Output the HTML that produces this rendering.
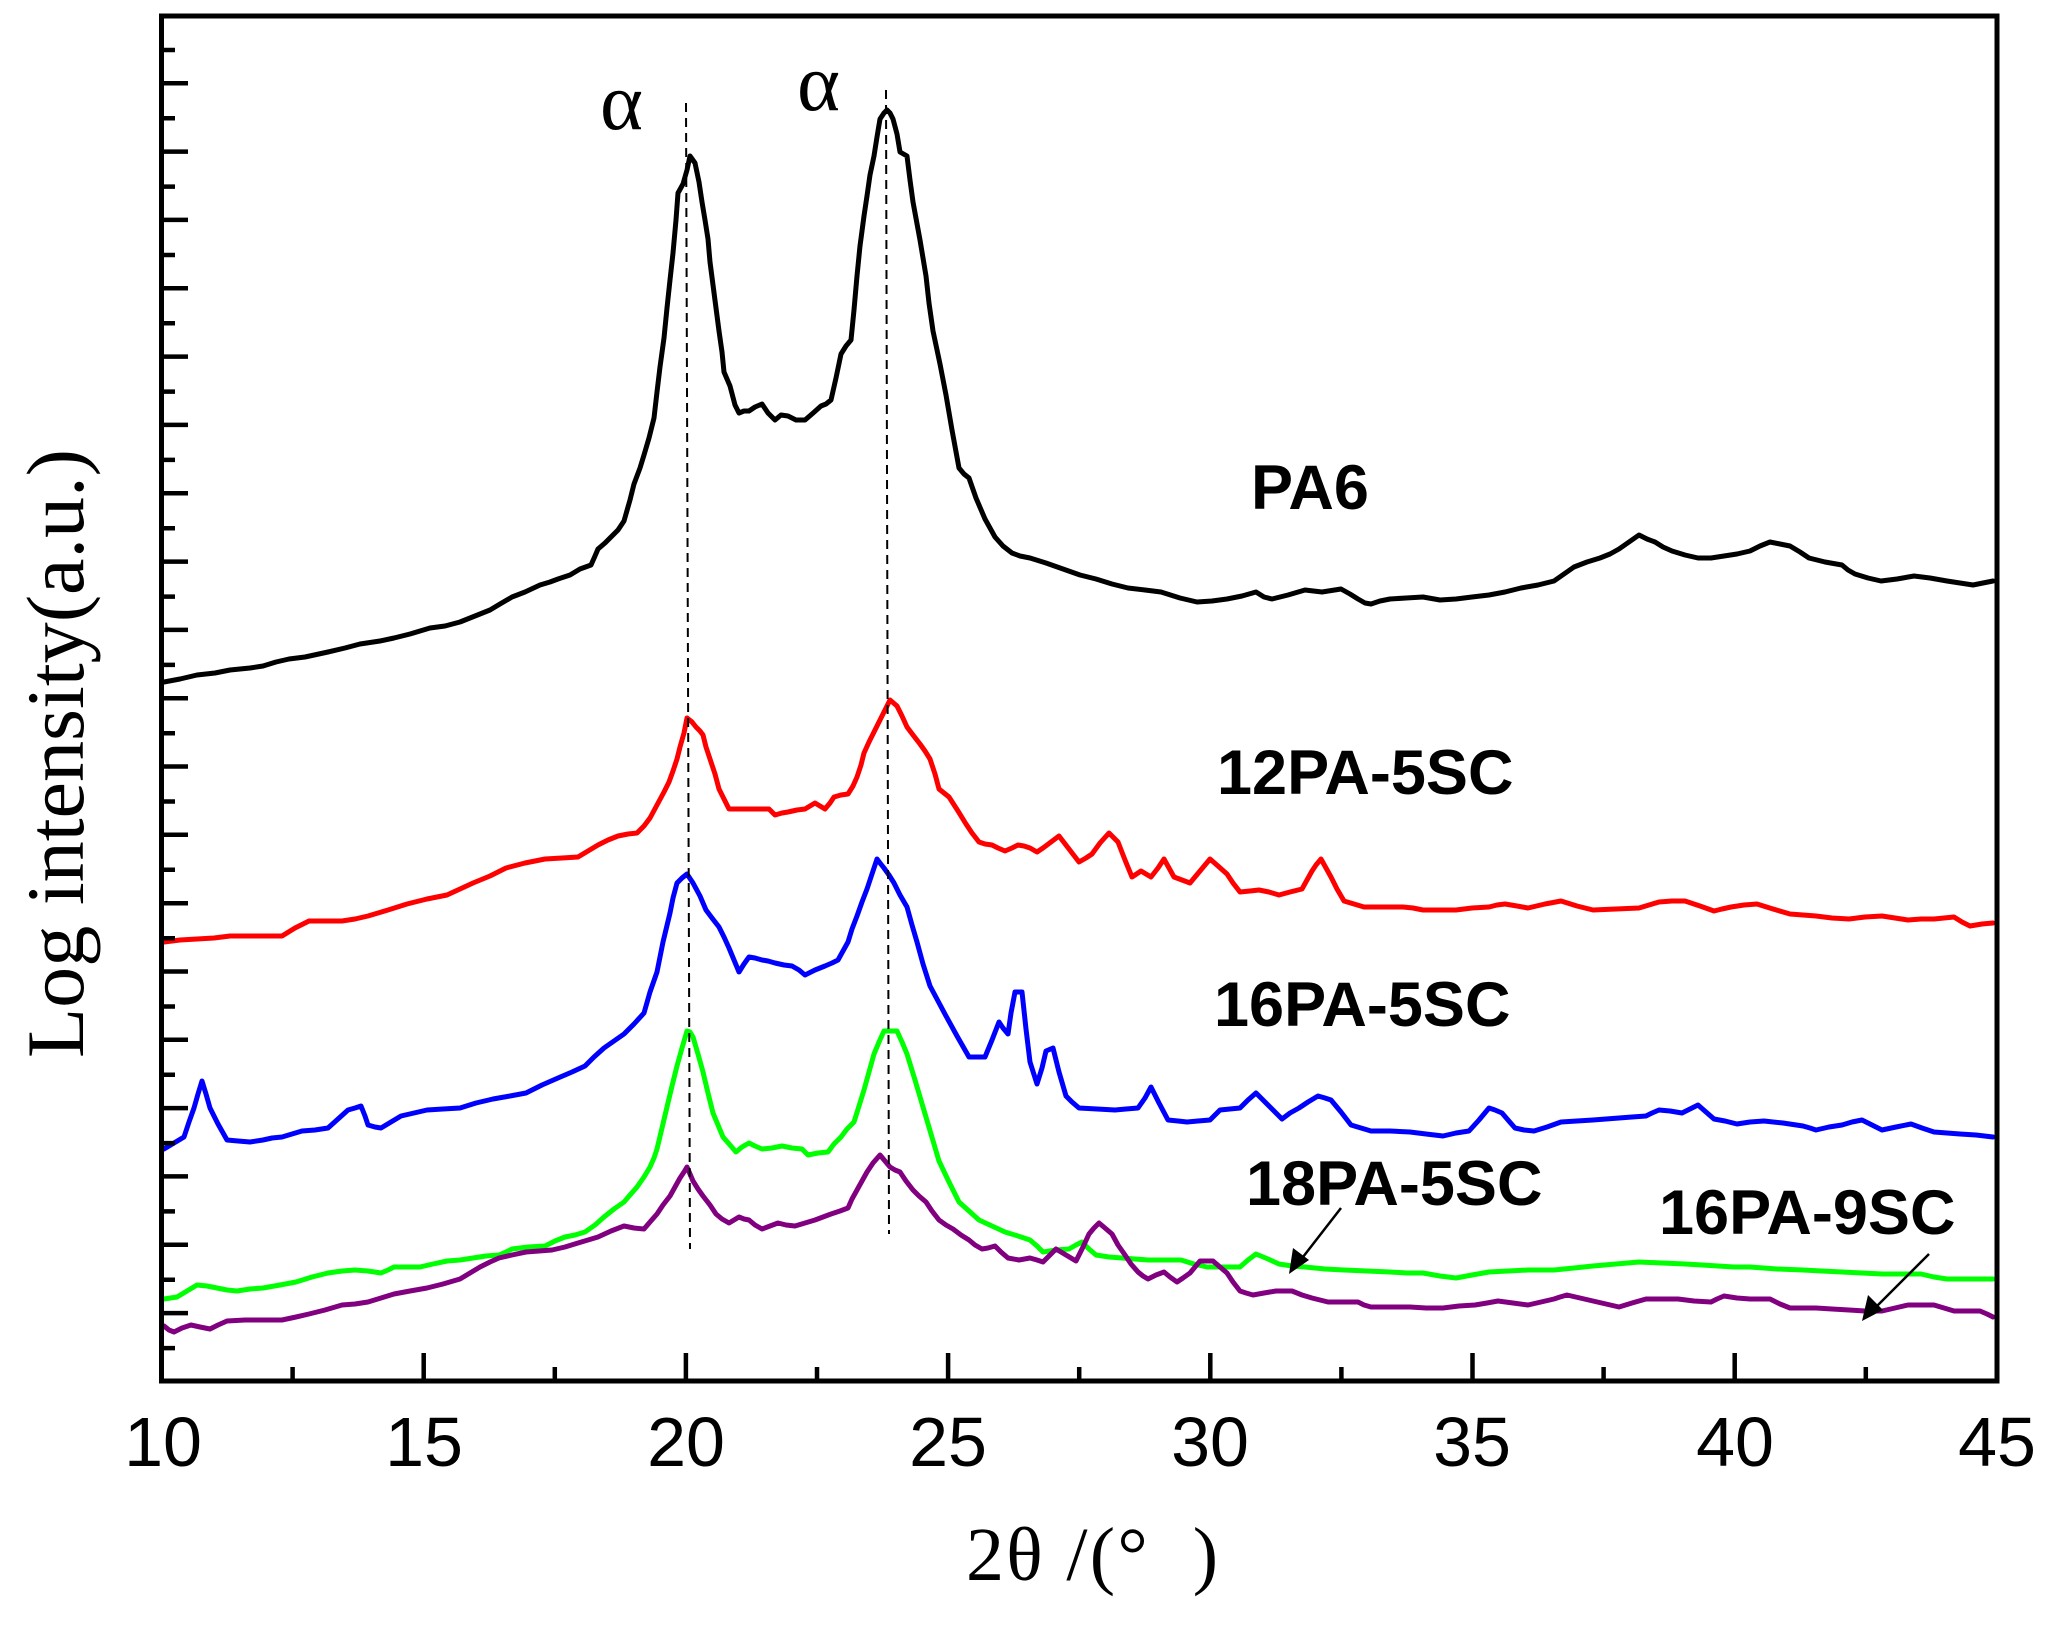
<!DOCTYPE html>
<html><head><meta charset="utf-8"><style>
html,body{margin:0;padding:0;background:#fff;}
svg{display:block;}
</style></head><body>
<svg width="2057" height="1626" viewBox="0 0 2057 1626" xmlns="http://www.w3.org/2000/svg">
<rect x="0" y="0" width="2057" height="1626" fill="#fff"/>
<g fill="none" stroke-width="5" stroke-linejoin="round" stroke-linecap="round">
<!-- PA6 black -->
<polyline stroke="#000" points="164,682 180,679 197,675 215,673 230,670 250,668 263,666 276,662 289,659 305,657 328,652 345,648 360,644 380,641 394,638 410,634 430,628 445,626 460,622 475,616 490,610 500,604 512,597 525,592 540,585 550,582 558,579 570,575 580,569 591,565 595,556 598,549 605,543 611,537 618,530 624,521 630,500 634,484 640,468 644,455 649,438 654,418 657,392 660,367 664,338 667,308 670,280 673,253 676,220 678,193 683,184 687,170 690,156 695,163 699,182 702,202 705,220 708,239 710,262 713,285 716,308 719,331 722,352 724,372 730,386 735,405 739,413 744,411 749,411 755,407 762,404 768,413 775,420 781,415 788,416 796,420 805,420 812,414 821,406 826,404 831,400 836,378 841,354 846,346 851,340 854,310 857,276 860,246 864,216 867,196 870,175 874,156 877,137 880,119 884,113 887,110 890,113 893,119 897,134 900,152 907,156 910,180 913,202 920,240 926,276 929,303 933,331 940,364 946,395 952,430 959,468 964,474 969,478 976,498 985,519 990,528 995,537 1003,546 1012,553 1020,556 1030,558 1046,563 1063,569 1080,575 1096,579 1112,584 1128,588 1145,590 1161,592 1180,598 1197,602 1212,601 1227,599 1242,596 1256,592 1264,597 1272,599 1288,595 1305,590 1322,592 1341,589 1350,594 1358,599 1365,603 1371,604 1380,601 1390,599 1406,598 1423,597 1440,600 1456,599 1472,597 1489,595 1505,592 1521,588 1538,585 1554,581 1564,574 1574,567 1587,562 1600,558 1610,554 1619,549 1629,542 1639,535 1647,539 1655,542 1663,547 1672,551 1685,555 1698,558 1711,558 1724,556 1737,554 1750,551 1760,546 1770,542 1780,544 1790,546 1800,552 1809,558 1825,562 1842,565 1848,570 1855,574 1868,578 1881,581 1897,579 1914,576 1930,578 1947,581 1960,583 1973,585 1983,583 1993,581"/>
<!-- 12PA-5SC red -->
<polyline stroke="#ff0000" points="164,942 180,940 197,939 214,938 230,936 256,936 282,936 295,928 309,921 325,921 342,921 355,919 368,916 388,910 407,904 427,899 447,895 460,889 473,883 490,876 506,868 525,863 545,859 562,858 578,857 588,851 598,845 608,840 618,836 628,834 637,833 644,826 650,818 657,805 664,792 669,782 673,771 677,759 680,747 684,733 687,718 692,722 696,727 700,731 703,735 706,747 710,759 715,774 719,789 724,799 729,809 739,809 749,809 759,809 769,809 775,815 782,813 788,812 797,810 805,809 810,806 815,803 820,806 825,809 830,803 834,797 841,795 848,794 853,786 857,777 861,765 864,753 869,742 874,732 879,722 884,712 887,706 890,700 897,706 902,716 907,727 913,735 920,744 925,751 930,759 935,774 939,789 944,793 949,797 958,811 966,824 972,833 979,842 985,844 992,845 998,848 1005,851 1012,848 1018,845 1024,846 1030,848 1037,852 1043,848 1051,842 1059,836 1069,849 1079,862 1086,858 1092,854 1100,843 1109,833 1118,842 1125,860 1132,877 1141,871 1151,877 1158,868 1164,859 1169,868 1174,877 1182,880 1190,883 1200,871 1210,859 1218,866 1227,874 1233,883 1240,892 1250,891 1259,890 1269,892 1279,895 1290,892 1302,889 1307,880 1312,871 1316,865 1321,859 1326,868 1331,877 1337,889 1344,901 1354,904 1364,907 1384,907 1403,907 1413,908 1423,910 1440,910 1456,910 1472,908 1489,907 1497,905 1505,904 1517,906 1528,908 1545,904 1561,901 1577,906 1593,910 1616,909 1639,908 1649,905 1659,902 1672,901 1685,901 1700,906 1714,911 1722,909 1731,907 1744,905 1757,904 1773,909 1790,914 1803,915 1816,916 1832,918 1849,919 1865,917 1882,916 1895,918 1908,920 1921,919 1934,919 1944,918 1954,917 1962,922 1970,926 1982,924 1993,923"/>
<!-- 16PA-5SC blue -->
<polyline stroke="#0000ff" points="164,1149 174,1143 184,1137 189,1122 194,1108 198,1094 202,1081 206,1094 210,1108 218,1124 227,1140 238,1141 250,1142 263,1140 272,1138 282,1137 292,1134 302,1131 315,1130 328,1128 338,1119 348,1110 355,1108 361,1106 365,1116 368,1125 375,1127 381,1128 391,1122 401,1116 414,1113 427,1110 443,1109 460,1108 476,1103 493,1099 510,1096 526,1093 542,1085 558,1078 572,1072 585,1066 594,1057 604,1048 614,1041 624,1034 634,1024 644,1013 650,992 657,972 663,942 670,913 673,898 677,883 682,878 687,874 693,883 700,896 706,910 712,918 719,927 724,937 729,948 734,960 739,972 744,964 749,957 755,958 762,960 768,961 775,963 784,965 792,966 799,970 805,975 815,970 825,966 832,963 838,960 843,951 848,942 852,929 857,916 862,902 867,889 872,874 877,859 880,863 884,868 889,875 894,883 900,895 907,907 912,925 917,942 923,964 930,986 938,1001 946,1016 957,1036 969,1057 977,1057 985,1057 992,1040 999,1022 1003,1028 1008,1034 1011,1013 1015,992 1022,992 1026,1029 1030,1062 1037,1084 1042,1068 1046,1051 1053,1048 1059,1072 1066,1096 1072,1102 1079,1108 1097,1109 1115,1110 1126,1109 1138,1108 1145,1098 1151,1087 1159,1103 1168,1120 1178,1121 1187,1122 1198,1121 1210,1120 1215,1115 1220,1110 1230,1109 1240,1108 1248,1100 1256,1093 1269,1106 1282,1119 1290,1113 1299,1108 1308,1102 1318,1096 1325,1098 1331,1100 1341,1112 1351,1125 1361,1128 1371,1131 1390,1131 1410,1132 1426,1134 1443,1136 1456,1133 1469,1131 1479,1120 1489,1108 1495,1110 1502,1113 1508,1120 1515,1128 1524,1130 1534,1131 1547,1127 1561,1122 1577,1121 1593,1120 1606,1119 1619,1118 1632,1117 1646,1116 1652,1113 1659,1110 1670,1111 1682,1113 1690,1109 1698,1105 1706,1112 1714,1119 1725,1121 1737,1124 1750,1122 1764,1121 1783,1123 1803,1126 1810,1128 1816,1130 1829,1127 1842,1125 1852,1122 1862,1120 1872,1125 1882,1130 1896,1127 1911,1124 1922,1128 1934,1132 1947,1133 1960,1134 1976,1135 1993,1137"/>
<!-- 18PA-5SC green -->
<polyline stroke="#00ff00" points="164,1299 177,1297 187,1291 197,1285 207,1286 217,1288 227,1290 237,1291 250,1289 263,1288 280,1285 296,1282 312,1277 328,1273 342,1271 355,1270 368,1271 381,1273 388,1270 394,1267 407,1267 420,1267 433,1264 447,1261 460,1260 473,1258 486,1256 499,1255 506,1252 512,1249 528,1247 545,1246 555,1241 565,1237 575,1235 585,1232 595,1225 604,1217 614,1209 624,1202 630,1195 637,1187 644,1177 650,1167 654,1158 657,1149 662,1128 667,1107 672,1086 677,1066 682,1048 687,1031 690,1032 693,1037 698,1054 703,1072 708,1093 713,1113 718,1125 723,1137 730,1145 736,1152 742,1147 749,1143 755,1146 762,1149 772,1148 782,1146 792,1148 802,1149 808,1155 818,1153 828,1152 834,1144 841,1137 847,1129 854,1122 859,1106 864,1090 869,1072 874,1054 879,1042 884,1031 890,1031 897,1031 902,1042 907,1054 915,1080 923,1107 931,1134 939,1161 949,1182 959,1202 969,1211 979,1220 992,1226 1005,1232 1018,1236 1030,1240 1037,1246 1043,1252 1056,1250 1069,1249 1076,1245 1082,1242 1089,1249 1096,1255 1109,1257 1122,1258 1135,1259 1148,1260 1164,1260 1181,1260 1194,1264 1207,1267 1224,1267 1240,1267 1248,1260 1256,1254 1268,1259 1279,1264 1292,1266 1305,1267 1325,1269 1344,1270 1367,1271 1390,1272 1407,1273 1423,1273 1440,1276 1456,1278 1472,1275 1489,1272 1508,1271 1528,1270 1541,1270 1554,1270 1574,1268 1593,1266 1616,1264 1639,1262 1662,1263 1685,1264 1702,1265 1718,1266 1734,1267 1750,1267 1777,1269 1803,1270 1822,1271 1842,1272 1862,1273 1882,1274 1902,1274 1921,1274 1934,1277 1947,1279 1970,1279 1993,1279"/>
<!-- 16PA-9SC purple -->
<polyline stroke="#800080" points="164,1326 169,1330 174,1332 182,1328 191,1325 200,1327 210,1329 218,1325 227,1321 245,1320 263,1320 282,1320 296,1317 309,1314 325,1310 342,1305 355,1304 368,1302 381,1298 394,1294 410,1291 427,1288 443,1284 460,1279 470,1273 480,1267 490,1262 499,1258 512,1255 526,1252 539,1251 552,1250 565,1247 578,1243 588,1240 598,1237 611,1231 624,1226 634,1228 644,1229 650,1222 657,1214 663,1205 670,1196 675,1187 680,1178 684,1172 687,1167 690,1174 693,1181 698,1189 703,1196 710,1205 716,1214 722,1219 729,1223 734,1220 739,1217 744,1219 749,1220 755,1225 762,1229 770,1226 778,1223 786,1225 795,1226 805,1223 815,1220 823,1217 831,1214 840,1211 848,1208 852,1199 857,1190 862,1181 867,1172 873,1163 880,1155 885,1161 890,1167 895,1170 900,1172 906,1181 913,1190 919,1196 926,1202 932,1211 939,1220 946,1225 953,1229 961,1235 969,1240 975,1245 982,1249 988,1248 995,1246 1001,1252 1008,1258 1019,1260 1030,1258 1037,1260 1043,1262 1050,1255 1056,1249 1066,1255 1076,1261 1083,1247 1089,1234 1094,1228 1099,1223 1105,1228 1112,1234 1118,1245 1125,1255 1131,1264 1138,1272 1143,1276 1148,1279 1156,1275 1164,1272 1170,1277 1177,1282 1183,1278 1190,1273 1195,1267 1200,1261 1207,1261 1213,1261 1220,1267 1227,1273 1233,1282 1240,1291 1246,1293 1253,1295 1264,1293 1276,1291 1284,1291 1292,1291 1302,1295 1312,1298 1320,1300 1328,1302 1343,1302 1358,1302 1364,1305 1371,1307 1390,1307 1410,1307 1426,1308 1443,1308 1459,1306 1475,1305 1487,1303 1498,1301 1513,1303 1528,1305 1541,1302 1554,1299 1560,1297 1567,1295 1580,1298 1593,1301 1606,1304 1619,1307 1632,1303 1646,1299 1662,1299 1678,1299 1694,1301 1711,1302 1717,1299 1724,1296 1737,1298 1750,1299 1760,1299 1770,1299 1780,1304 1790,1308 1803,1308 1816,1308 1832,1309 1849,1310 1865,1311 1882,1311 1895,1308 1908,1305 1921,1305 1934,1305 1944,1308 1954,1311 1967,1311 1980,1311 1987,1314 1993,1317"/>
</g>
<!-- dashed alpha lines -->
<g stroke="#000" stroke-width="2" stroke-dasharray="9,6" fill="none">
<line x1="686" y1="103" x2="690" y2="1249"/>
<line x1="886" y1="90" x2="889" y2="1234"/>
</g>
<!-- axes box -->
<rect x="161.5" y="16" width="1835.5" height="1365" fill="none" stroke="#000" stroke-width="5"/>
<!-- ticks -->
<g stroke="#000" stroke-width="4.5">
<path d="M161.5 83.3H188M161.5 151.6H188M161.5 219.9H188M161.5 288.3H188M161.5 356.6H188M161.5 424.9H188M161.5 493.2H188M161.5 561.6H188M161.5 629.9H188M161.5 698.2H188M161.5 766.5H188M161.5 834.8H188M161.5 903.2H188M161.5 971.5H188M161.5 1039.8H188M161.5 1108.1H188M161.5 1176.4H188M161.5 1244.8H188M161.5 1313.1H188"/>
<path d="M161.5 50H175M161.5 118.3H175M161.5 186.6H175M161.5 255H175M161.5 323.3H175M161.5 391.6H175M161.5 459.9H175M161.5 528.2H175M161.5 596.6H175M161.5 664.9H175M161.5 733.2H175M161.5 801.5H175M161.5 869.8H175M161.5 938.2H175M161.5 1006.5H175M161.5 1074.8H175M161.5 1143.1H175M161.5 1211.4H175M161.5 1279.8H175M161.5 1348.1H175"/>
<path d="M423.7 1381V1353M685.9 1381V1353M948.1 1381V1353M1210.3 1381V1353M1472.5 1381V1353M1734.7 1381V1353"/>
<path d="M292.6 1381V1367M554.8 1381V1367M817 1381V1367M1079.2 1381V1367M1341.4 1381V1367M1603.6 1381V1367M1865.8 1381V1367"/>
</g>
<!-- arrows -->
<g stroke="#000" stroke-width="2.5">
<line x1="1341" y1="1208" x2="1296" y2="1266"/>
<line x1="1929" y1="1254" x2="1870" y2="1313"/>
</g>
<polygon points="1289,1274 1293,1248 1309,1260" fill="#000"/>
<polygon points="1862,1321 1868,1295 1883,1310" fill="#000"/>
<!-- tick labels -->
<g font-family="'Liberation Sans', Arial, sans-serif" font-size="70" text-anchor="middle" fill="#000">
<text x="163" y="1466">10</text>
<text x="424" y="1466">15</text>
<text x="686" y="1466">20</text>
<text x="948" y="1466">25</text>
<text x="1210" y="1466">30</text>
<text x="1472" y="1466">35</text>
<text x="1735" y="1466">40</text>
<text x="1997" y="1466">45</text>
</g>
<!-- axis titles -->
<text x="966" y="1580" font-family="'Liberation Serif', 'Times New Roman', serif" font-size="76" textLength="252" lengthAdjust="spacing" fill="#000" xml:space="preserve">2θ /(°  )</text>
<text transform="translate(83,753.5) rotate(-90)" x="0" y="0" text-anchor="middle" font-family="'Liberation Serif', 'Times New Roman', serif" font-size="82" textLength="609" lengthAdjust="spacingAndGlyphs" fill="#000">Log intensity(a.u.)</text>
<!-- alpha -->
<g font-family="'Liberation Serif', 'Times New Roman', serif" font-size="82" fill="#000">
<text x="600" y="129">α</text>
<text x="797" y="110">α</text>
</g>
<!-- series labels -->
<g font-family="'Liberation Sans', Arial, sans-serif" font-size="63" font-weight="bold" fill="#000">
<text x="1251" y="509">PA6</text>
<text x="1217" y="794">12PA-5SC</text>
<text x="1214" y="1026">16PA-5SC</text>
<text x="1246" y="1205">18PA-5SC</text>
<text x="1659" y="1234">16PA-9SC</text>
</g>
</svg>
</body></html>
